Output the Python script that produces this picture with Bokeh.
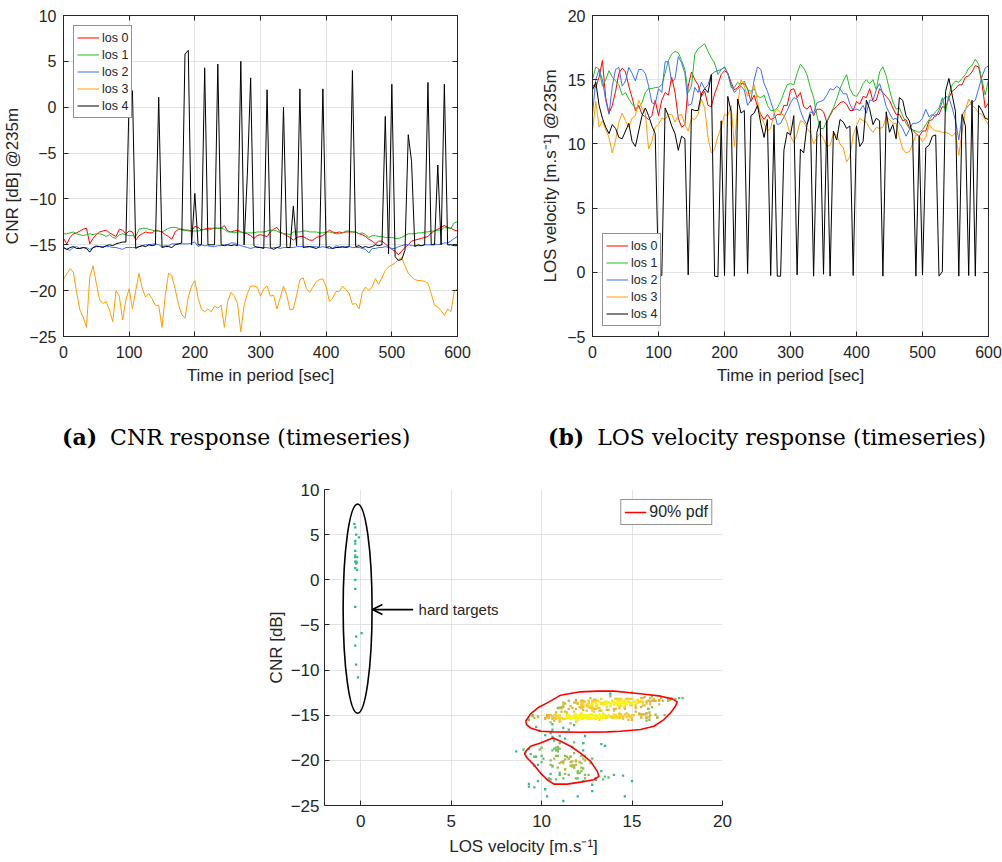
import numpy as np
from bokeh.plotting import figure
from bokeh.models import (Range1d, FixedTicker, LinearAxis, Label, Arrow, OpenHead,
                          LinearColorMapper, ColumnDataSource, Div)
from bokeh.layouts import row, column
from bokeh.embed import file_html
from bokeh.resources import INLINE

# ---------------- data ----------------
time_s = list(range(0, 601, 5))
los_names = ["los 0", "los 1", "los 2", "los 3", "los 4"]

cnr_los0 = [-14.3, -14.9, -14.2, -13.8, -13.7, -13.5, -13.3, -13.2, -14.9, -14.3,
            -13.9, -13.6, -13.5, -13.4, -13.7, -13.9, -14.1, -13.3, -13.4, -13.8,
            -13.5, -13.6, -14.5, -14.0, -13.8, -13.6, -13.7, -13.7, -13.4, -13.5,
            -13.6, -13.9, -14.1, -14.4, -13.6, -13.3, -13.3, -13.4, -13.4, -13.5,
            -13.0, -13.1, -13.4, -13.3, -13.2, -13.2, -13.2, -13.2, -13.2, -12.9,
            -13.5, -13.6, -13.5, -13.4, -13.6, -13.7, -13.8, -14.0, -14.3, -14.0,
            -13.9, -14.0, -14.1, -13.6, -13.3, -13.1, -13.6, -13.8, -14.0, -14.2,
            -14.5, -14.2, -14.1, -14.1, -14.3, -14.5, -14.5, -14.2, -14.1, -14.0,
            -13.7, -13.4, -13.6, -13.7, -13.6, -13.7, -13.6, -13.6, -13.6, -13.6,
            -13.8, -13.9, -14.1, -14.4, -14.6, -14.9, -14.6, -14.6, -14.9, -15.2,
            -15.5, -15.7, -16.1, -15.7, -15.3, -15.0, -14.6, -14.5, -14.4, -14.3,
            -14.2, -14.1, -13.7, -13.5, -13.3, -13.1, -12.9, -13.1, -13.2, -13.4,
            -13.5]
cnr_los1 = [-13.8, -13.8, -13.7, -13.6, -13.8, -13.9, -14.0, -13.9, -13.8, -13.9,
            -13.8, -13.8, -13.9, -14.1, -13.9, -14.2, -14.3, -13.9, -13.8, -13.9,
            -14.0, -14.0, -14.1, -13.3, -13.2, -13.2, -13.3, -13.4, -13.5, -13.5,
            -13.6, -13.4, -13.2, -13.1, -13.1, -13.2, -13.4, -13.4, -13.5, -13.5,
            -13.5, -13.5, -13.4, -13.3, -13.4, -13.3, -13.2, -13.2, -13.2, -13.3,
            -13.6, -13.6, -13.7, -13.6, -13.6, -13.7, -13.7, -13.7, -13.7, -13.6,
            -13.6, -13.6, -13.5, -13.4, -13.4, -13.5, -13.7, -13.8, -13.8, -13.9,
            -13.6, -13.6, -13.6, -13.5, -13.5, -13.6, -13.6, -13.6, -13.7, -13.7,
            -13.6, -13.6, -13.7, -13.8, -13.8, -13.7, -13.5, -13.5, -13.6, -13.6,
            -13.8, -13.7, -13.9, -14.2, -14.0, -14.0, -14.1, -14.1, -14.2, -14.2,
            -14.2, -14.3, -14.3, -14.2, -14.0, -13.8, -13.8, -13.8, -13.7, -13.7,
            -13.6, -13.6, -13.5, -13.5, -13.4, -13.4, -13.1, -13.2, -13.2, -12.6,
            -12.5]
cnr_los2 = [-15.3, -15.5, -15.6, -15.3, -15.2, -15.4, -15.3, -15.3, -15.5, -15.3,
            -15.1, -15.2, -15.2, -15.2, -15.2, -15.3, -15.3, -15.4, -15.5, -15.3,
            -15.3, -15.3, -15.3, -15.2, -15.1, -15.0, -15.0, -14.95, -14.9, -15.0,
            -15.2, -15.1, -15.1, -14.9, -14.9, -14.9, -14.9, -14.9, -14.9, -14.8,
            -14.7, -15.2, -15.0, -15.1, -15.1, -15.2, -15.2, -15.1, -15.1, -15.0,
            -15.0, -14.8, -14.8, -15.0, -15.1, -15.2, -15.3, -15.4, -15.3, -15.2,
            -15.3, -15.3, -15.3, -15.4, -15.3, -15.3, -15.4, -15.3, -15.3, -15.3,
            -15.3, -15.2, -15.2, -15.2, -15.3, -15.2, -15.2, -15.2, -15.3, -15.2,
            -15.3, -15.4, -15.4, -15.1, -15.2, -15.3, -15.2, -15.2, -15.3, -15.3,
            -15.3, -15.4, -15.5, -15.9, -15.4, -15.4, -15.3, -15.3, -15.2, -15.3,
            -15.4, -15.4, -15.2, -15.1, -15.0, -15.0, -15.1, -15.1, -15.1, -15.1,
            -15.0, -15.0, -15.0, -14.9, -15.0, -14.9, -14.8, -14.8, -14.6, -14.3,
            -14.1]
cnr_los3 = [-18.7, -18.2, -17.6, -18.0, -20.2, -22.1, -22.9, -24.0, -18.5, -17.3,
            -19.2, -21.0, -21.4, -21.2, -22.1, -23.4, -20.0, -20.6, -23.2, -21.0,
            -19.8, -22.0, -20.0, -18.1, -19.8, -20.7, -20.3, -20.9, -21.6, -21.6,
            -24.0, -20.5, -18.1, -18.4, -19.8, -21.5, -22.6, -23.0, -20.7, -19.5,
            -18.9, -20.8, -22.0, -22.3, -22.0, -22.3, -21.7, -21.9, -21.6, -24.0,
            -21.2, -20.2, -20.6, -21.4, -24.5, -21.6, -20.3, -19.5, -19.5, -19.6,
            -20.6, -19.8, -19.5, -20.6, -20.5, -22.0, -20.8, -19.5, -20.5, -22.1,
            -22.0, -20.5, -18.8, -18.6, -19.8, -20.2, -19.6, -19.0, -18.8, -18.7,
            -19.6, -21.2, -20.8, -20.1, -20.1, -19.5, -19.9, -20.3, -21.5, -21.4,
            -22.0, -20.2, -19.6, -20.0, -19.6, -18.7, -19.3, -18.6, -17.8, -17.4,
            -17.2, -17.0, -16.6, -16.4, -17.3, -18.1, -18.5, -18.8, -18.9, -18.9,
            -19.0, -19.2, -20.3, -21.6, -21.8, -22.2, -22.7, -22.0, -22.3, -20.1,
            -19.8]
cnr_los4 = [-15.3, -15.5, -15.3, -15.2, -15.4, -15.4, -15.3, -15.4, -15.8, -15.3,
            -15.2, -15.2, -15.3, -15.1, -15.0, -15.1, -14.9, -14.8, -14.7, -14.7,
            1.3, 1.8, -15.4, -15.2, -15.1, -15.2, -15.0, -15.1, -15.0, 1.1,
            -15.3, -15.2, -15.2, -15.3, -15.0, -14.9, -14.8, 5.8, 6.2, -15.0,
            -9.4, -15.0, -15.0, 4.3, -15.0, -15.0, -15.0, 4.7, -15.0, -15.1,
            -15.0, -15.1, -15.0, -15.1, 5.0, -15.0, -7.3, 3.2, -15.1, -15.3,
            -15.3, -15.4, 1.9, -15.3, -15.5, -15.3, -15.2, 0.0, -15.3, -15.3,
            -10.8, -15.1, 2.0, -15.3, -15.2, -15.2, -15.3, -15.4, -15.2, 2.0,
            -15.3, -15.2, -15.4, -15.3, -15.3, -15.2, -15.3, -15.2, 4.0, -15.2,
            -15.1, -15.3, -15.2, -15.3, -15.2, -15.0, -15.1, -15.0, -1.0, -16.0,
            2.5, -16.3, -16.7, -16.6, -15.6, -3.0, -5.9, -15.2, -15.0, -15.1,
            -15.0, 2.7, -15.0, -15.0, -6.3, -15.0, 2.5, -15.0, -15.0, -15.1,
            -15.1]

vel_los0 = [14.6, 14.4, 15.2, 16.5, 13.6, 12.4, 13.0, 14.1, 15.5, 15.9,
            15.6, 14.5, 13.6, 12.6, 13.0, 12.3, 12.1, 11.9, 12.2, 13.4,
            12.2, 13.4, 14.0, 13.8, 15.2, 14.0, 12.0, 11.3, 11.5, 14.5,
            15.6, 15.0, 14.6, 13.7, 14.1, 13.0, 12.9, 13.9, 14.6, 15.4,
            15.7, 15.5, 14.8, 14.2, 14.4, 14.7, 14.7, 14.3, 13.3, 13.8,
            12.9, 12.3, 11.9, 12.3, 11.9, 12.0, 12.3, 12.3, 13.0, 13.0,
            14.2, 14.3, 13.6, 14.0, 12.9, 12.7, 13.0, 12.2, 12.7, 12.7,
            12.5, 11.7, 12.2, 12.7, 12.9, 13.2, 13.3, 13.1, 12.6, 12.6,
            13.3, 13.1, 13.7, 13.6, 14.3, 13.3, 13.4, 14.3, 14.0, 13.7,
            13.4, 12.8, 12.3, 12.3, 11.8, 11.9, 11.3, 11.1, 10.8, 10.6,
            11.0, 11.0, 11.8, 11.9, 12.3, 12.3, 12.9, 12.8, 13.6, 14.1,
            14.3, 14.6, 14.6, 15.2, 15.3, 15.6, 16.1, 16.0, 14.8, 12.8,
            13.2]
vel_los1 = [15.0, 16.0, 15.8, 14.5, 15.0, 15.7, 15.2, 14.9, 14.6, 13.8,
            14.0, 13.5, 13.1, 12.8, 12.8, 13.2, 14.0, 14.3, 14.3, 14.4,
            14.4, 14.6, 15.5, 16.5, 17.0, 17.2, 17.1, 16.5, 15.8, 14.0,
            14.5, 17.0, 17.4, 17.6, 17.8, 17.2, 16.7, 16.3, 15.4, 15.8,
            16.0, 15.5, 14.4, 14.4, 14.8, 14.6, 14.9, 14.2, 14.1, 14.3,
            13.7, 13.6, 13.8, 13.0, 12.6, 12.6, 12.8, 13.3, 14.0, 14.6,
            14.7, 14.6, 15.5, 16.2, 15.9, 15.4, 14.4, 13.6, 12.2, 11.2,
            11.2, 11.8, 12.3, 12.8, 13.5, 14.3, 14.9, 15.4, 14.3, 13.8,
            13.7, 14.1, 14.7, 15.0, 14.7, 15.0, 14.2, 15.6, 16.0, 15.3,
            14.2, 13.3, 12.7, 12.8, 12.2, 11.6, 11.2, 11.1, 11.0, 10.9,
            11.1, 11.5, 11.9, 12.2, 12.5, 12.8, 13.6, 12.5, 13.8, 14.6,
            14.9, 14.8, 15.1, 15.4, 15.9, 16.1, 16.6, 16.2, 15.0, 13.8,
            15.0]
vel_los2 = [12.3, 15.0, 15.8, 15.0, 13.4, 12.3, 14.5, 15.8, 15.96, 14.5,
            14.9, 15.96, 15.5, 14.9, 15.8, 15.8, 15.5, 14.5, 13.2, 13.1,
            14.3, 14.0, 16.4, 16.4, 14.8, 15.05, 16.8, 16.3, 15.5, 13.0,
            13.1, 14.4, 14.0, 14.8, 14.3, 14.6, 15.4, 15.6, 15.7, 15.8,
            15.96, 15.5, 14.6, 14.0, 14.3, 14.5, 14.2, 13.0, 13.4, 15.0,
            16.0, 15.8, 14.7, 14.1, 13.3, 12.5, 11.5, 11.6, 12.1, 12.6,
            13.2, 13.6, 13.5, 12.6, 11.9, 11.5, 12.5, 12.4, 13.2, 13.3,
            13.4, 13.8, 14.3, 14.2, 14.5, 14.3, 13.9, 13.9, 13.1, 12.6,
            12.7, 12.6, 13.0, 12.4, 13.4, 13.4, 14.2, 14.7, 13.9, 12.9,
            12.4, 11.9, 12.0, 11.6, 11.2, 10.6, 11.1, 11.6, 11.6, 11.7,
            12.0, 12.7, 12.1, 12.3, 12.1, 12.6, 13.3, 13.7, 13.6, 12.8,
            11.8, 10.3, 12.2, 12.7, 13.0, 13.2, 13.4, 14.3, 15.2, 15.9,
            16.1]
vel_los3 = [11.0, 13.3, 11.3, 11.8, 11.1, 10.5, 9.3, 10.3, 11.7, 12.4,
            11.8, 11.3, 12.0, 12.2, 13.4, 12.8, 12.4, 9.6, 10.2, 11.3,
            11.5, 12.0, 11.9, 12.3, 12.3, 11.7, 12.2, 12.3, 11.5, 11.0,
            12.0, 11.9, 12.3, 13.5, 12.8, 10.5, 9.3, 9.6, 10.6, 11.3,
            12.3, 12.2, 13.0, 9.8, 13.0, 15.0, 14.5, 13.7, 14.0, 14.6,
            13.3, 12.1, 11.6, 11.0, 11.2, 12.4, 12.7, 12.4, 12.2, 11.6,
            10.6, 10.1, 10.8, 11.8, 11.7, 11.2, 10.9, 10.0, 10.5, 10.8,
            10.4, 9.8, 9.9, 10.8, 10.7, 10.0, 9.7, 8.6, 9.0, 10.7,
            11.4, 12.0, 11.8, 11.7, 11.2, 10.9, 11.3, 11.2, 11.3, 12.1,
            11.9, 11.6, 11.6, 10.5, 9.6, 9.3, 9.4, 10.0, 10.7, 10.6,
            10.2, 10.5, 11.5, 11.2, 11.0, 11.0, 10.9, 10.9, 10.8, 10.6,
            10.9, 9.1, 11.0, 12.6, 13.5, 13.0, 12.8, 12.4, 12.3, 11.9,
            11.5]
vel_los4 = [14.2, 14.8, 13.0, 12.0, 11.3, 10.8, 11.5, 11.2, 10.5, 10.4,
            11.0, 11.6, 10.2, 9.8, 11.0, 12.2, 12.8, 12.2, 11.4, 10.8,
            -0.3, -0.25, 12.8, 12.2, 11.4, 10.8, 9.5, 10.6, 10.4, -0.2,
            12.7, 12.6, 12.6, 13.9, 14.3, 14.0, 15.4, -0.3, -0.35, 11.8,
            -0.25, 13.7, 12.5, -0.3, 13.5, 12.4, 12.6, -0.1, 12.2, 12.4,
            13.0, 11.6, 10.5, 11.9, -0.25, 11.5, -0.3, -0.3, 9.5, 10.9,
            10.7, 12.2, -0.2, 9.6, 9.3, 11.5, 12.3, -0.3, 10.9, 11.8,
            -0.15, 11.8, -0.3, 11.0, 10.3, 11.9, 11.7, 11.2, 11.4, -0.25,
            11.4, 9.8, 10.2, 13.4, 12.7, 11.5, 12.0, 11.8, -0.3, 12.5,
            10.9, 11.5, 10.4, 13.6, 13.4, 12.2, 11.8, 10.7, -0.3, 10.6,
            -0.2, 9.7, 9.9, 10.6, 10.7, -0.3, 0.05, 14.1, 15.1, 13.8,
            12.5, -0.3, 12.3, 11.4, -0.25, 13.4, -0.3, 13.0, 12.6, 12.0,
            11.9]

# 90% pdf contours
pdf_upper_vel = [9.12, 9.39, 9.85, 10.31, 10.87, 11.05, 11.51, 12.15, 13.08, 14.0,
                 14.92, 15.84, 16.58, 17.22, 17.5, 17.4, 17.13, 16.76, 16.21, 15.47,
                 14.36, 13.63, 12.15, 10.68, 9.94, 9.39, 9.17]
pdf_upper_cnr = [-15.67, -14.85, -14.11, -13.63, -13.0, -12.78, -12.63, -12.41, -12.33, -12.33,
                 -12.52, -12.70, -12.89, -13.19, -13.52, -14.0, -14.74, -15.48, -16.22, -16.59,
                 -16.78, -16.85, -16.89, -16.85, -16.78, -16.41, -16.04]
pdf_lower_vel = [9.12, 9.39, 9.94, 10.41, 10.64, 11.05, 11.60, 12.15, 12.71, 13.08,
                 13.17, 12.89, 12.15, 11.42, 10.68, 10.31, 9.94, 9.57, 9.20, 9.07]
pdf_lower_cnr = [-19.0, -18.44, -18.07, -17.70, -17.52, -17.89, -18.44, -19.19, -20.11, -21.22,
                 -21.78, -22.15, -22.41, -22.63, -22.63, -22.15, -21.41, -20.48, -19.74, -19.3]

# hard-target annotation (ellipse centre/size, arrow, label)
hard_ellipse_vel, hard_ellipse_cnr = -0.17, -3.2
hard_ellipse_w, hard_ellipse_h = 1.6, 23.2
hard_arrow_from, hard_arrow_to, hard_arrow_cnr = 2.9, 0.65, -3.3
hard_label_vel = 3.2

# sub-figure captions: (tag, text)
caption_a = ("(a)", "CNR response (timeseries)")
caption_b = ("(b)", "LOS velocity response (timeseries)")

# ---------------- style ----------------
FONT = "Liberation Sans"
SERIF = "DejaVu Serif"
AX = "#262626"
GRID = "#E3E3E3"
los_colors = ["#FF0000", "#22BF22", "#3F6FF5", "#FF9D00", "#000000"]
density_palette = ["#2BB59E", "#45B98A", "#66BC71", "#8BBE58", "#AEBD46", "#CBBA3C",
                   "#E2B53A", "#EDBD37", "#F2CB30", "#F5DA28", "#F7E820", "#F9F418"]

cnr_all = [cnr_los0, cnr_los1, cnr_los2, cnr_los3, cnr_los4]
vel_all = [vel_los0, vel_los1, vel_los2, vel_los3, vel_los4]


def style_axis(ax, ticks, tick_px, label_px, standoff, label_standoff):
    ax.ticker = FixedTicker(ticks=ticks)
    ax.minor_tick_line_color = None
    ax.major_tick_in = 5
    ax.major_tick_out = 0
    ax.axis_line_color = AX
    ax.major_tick_line_color = AX
    ax.major_label_text_font = FONT
    ax.major_label_text_font_size = f"{tick_px}px"
    ax.major_label_text_color = AX
    ax.major_label_standoff = standoff
    ax.axis_label_text_font = FONT
    ax.axis_label_text_font_size = f"{label_px}px"
    ax.axis_label_text_font_style = "normal"
    ax.axis_label_text_color = AX
    ax.axis_label_standoff = label_standoff


def box_ticks(p, xticks, yticks):
    for loc, ticks in (("right", yticks), ("above", xticks)):
        ax = LinearAxis(ticker=FixedTicker(ticks=ticks), major_label_text_font_size="0px",
                        major_label_text_color=None, major_label_standoff=0,
                        major_tick_in=5, major_tick_out=0, minor_tick_line_color=None,
                        axis_line_color=AX, major_tick_line_color=AX)
        p.add_layout(ax, loc)
    p.outline_line_color = AX


def style_legend(lg, font_px, row_h, pad):
    lg.label_text_font = FONT
    lg.label_text_font_size = f"{font_px}px"
    lg.label_text_color = AX
    lg.glyph_width = 22
    lg.glyph_height = row_h
    lg.label_height = row_h
    lg.label_standoff = 3
    lg.spacing = 0
    lg.padding = pad
    lg.margin = 10
    lg.border_line_color = AX
    lg.border_line_width = 1
    lg.background_fill_alpha = 1.0


def caption_div(cap, indent):
    html = (f'<div style="font-family:\'{SERIF}\'; font-size:22px; line-height:26px; '
            f'color:#000; white-space:nowrap; padding-left:{indent}px; padding-top:24px;">'
            f'<b style="margin-right:6px;">{cap[0]}</b> {cap[1]}</div>')
    return Div(text=html, width=501, height=60, margin=(0, 0, 0, 0))


t_ticks = [0, 100, 200, 300, 400, 500, 600]

# ---------------- (a) CNR timeseries ----------------
pa = figure(width=501, height=400, x_range=Range1d(0, 600), y_range=Range1d(-25, 10),
            output_backend="svg", toolbar_location=None, tools="",
            min_border_left=62, min_border_right=44, min_border_top=15, min_border_bottom=64)
for name, col, cn in zip(los_names, los_colors, cnr_all):
    pa.line(time_s, cn, line_color=col, line_width=1, legend_label=name)
style_axis(pa.xaxis[0], t_ticks, 16, 17, 9, 5)
style_axis(pa.yaxis[0], [-25, -20, -15, -10, -5, 0, 5, 10], 16, 17, 7, 4)
pa.xaxis[0].axis_label = "Time in period [sec]"
pa.yaxis[0].axis_label = "CNR [dB] @235m"
box_ticks(pa, t_ticks, [-25, -20, -15, -10, -5, 0, 5, 10])
pa.grid.grid_line_color = GRID
pa.legend.location = "top_left"
style_legend(pa.legend[0], 12.5, 17, 3)

# ---------------- (b) LOS velocity timeseries ----------------
pb = figure(width=501, height=400, x_range=Range1d(0, 600), y_range=Range1d(-5, 20),
            output_backend="svg", toolbar_location=None, tools="",
            min_border_left=91, min_border_right=14, min_border_top=15, min_border_bottom=64)
for name, col, vl in zip(los_names, los_colors, vel_all):
    pb.line(time_s, vl, line_color=col, line_width=1, legend_label=name)
style_axis(pb.xaxis[0], t_ticks, 16, 17, 9, 5)
style_axis(pb.yaxis[0], [-5, 0, 5, 10, 15, 20], 16, 17, 7, 4)
pb.xaxis[0].axis_label = "Time in period [sec]"
pb.yaxis[0].axis_label = "LOS velocity [m.s\u207b\u00b9] @235m"
box_ticks(pb, t_ticks, [-5, 0, 5, 10, 15, 20])
pb.grid.grid_line_color = GRID
pb.legend.location = "bottom_left"
style_legend(pb.legend[0], 12.5, 17, 3)

# ---------------- (c) CNR vs LOS velocity scatter ----------------
sc_vel = np.concatenate([np.asarray(v, float) for v in vel_all])
sc_cnr = np.concatenate([np.asarray(c, float) for c in cnr_all])
dx = (sc_vel[:, None] - sc_vel[None, :]) / 1.2
dy = (sc_cnr[:, None] - sc_cnr[None, :]) / 0.6
density = np.sqrt((dx ** 2 + dy ** 2 < 1.0).sum(axis=1).astype(float))
order = np.argsort(density)
src = ColumnDataSource(dict(v=sc_vel[order], c=sc_cnr[order], d=density[order]))
mapper = LinearColorMapper(palette=density_palette, low=1.0, high=float(density.max()))

pc = figure(width=1002, height=402, x_range=Range1d(-2, 20), y_range=Range1d(-25, 10),
            output_backend="svg", toolbar_location=None, tools="",
            min_border_left=324, min_border_right=280, min_border_top=29, min_border_bottom=57)
pc.outline_line_color = None
pc.grid.grid_line_color = GRID
pc.scatter("v", "c", source=src, marker="square", size=2.3,
           fill_color={"field": "d", "transform": mapper}, line_color=None)
pc.multi_line([pdf_upper_vel + pdf_upper_vel[:1], pdf_lower_vel + pdf_lower_vel[:1]],
              [pdf_upper_cnr + pdf_upper_cnr[:1], pdf_lower_cnr + pdf_lower_cnr[:1]],
              line_color="#FF0000", line_width=1.6, legend_label="90% pdf")
pc.ellipse(x=[hard_ellipse_vel], y=[hard_ellipse_cnr], width=hard_ellipse_w,
           height=hard_ellipse_h, fill_color=None, line_color="black", line_width=1.6)
pc.add_layout(Arrow(end=OpenHead(size=10, line_width=1.6, line_color="black"),
                    x_start=hard_arrow_from, y_start=hard_arrow_cnr,
                    x_end=hard_arrow_to, y_end=hard_arrow_cnr,
                    line_width=1.6, line_color="black"))
pc.add_layout(Label(x=hard_label_vel, y=hard_arrow_cnr, text="hard targets",
                    text_font=FONT, text_font_size="15px", text_baseline="middle",
                    text_color=AX))
style_axis(pc.xaxis[0], [0, 5, 10, 15, 20], 17, 17, 9, 7)
style_axis(pc.yaxis[0], [-25, -20, -15, -10, -5, 0, 5, 10], 17, 17, 5, 2)
pc.xaxis[0].axis_label = "LOS velocity [m.s\u207b\u00b9]"
pc.yaxis[0].axis_label = "CNR [dB]"
pc.legend.location = "top_right"
style_legend(pc.legend[0], 16, 18, 3)

layout = column(row(pa, pb), row(caption_div(caption_a, 62), caption_div(caption_b, 47)), pc)
open("out.html", "w").write(file_html(layout, INLINE))
